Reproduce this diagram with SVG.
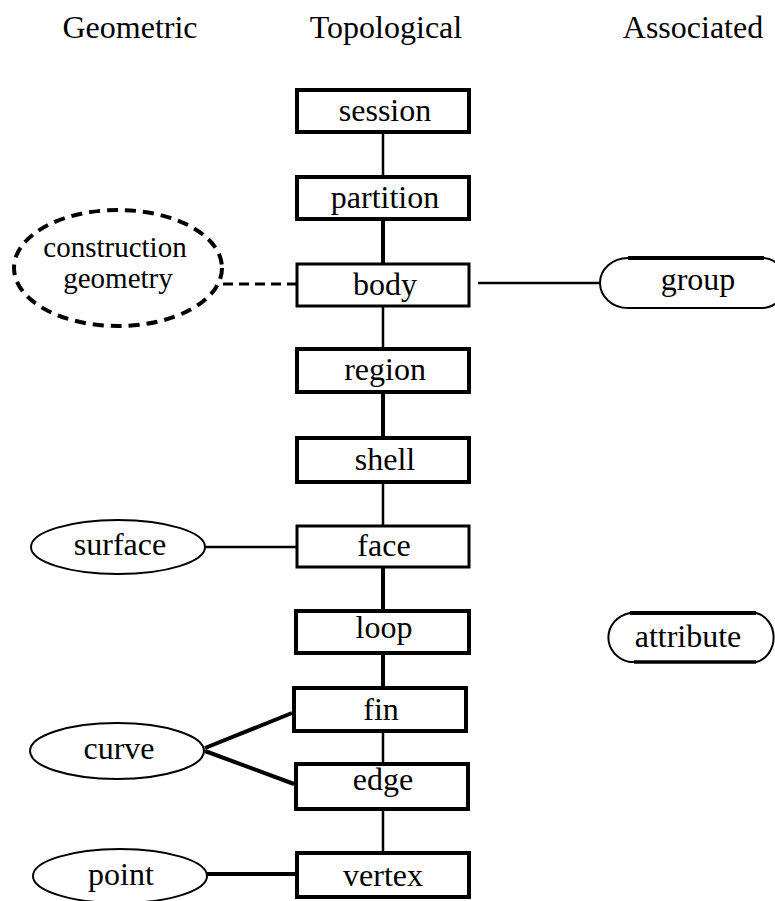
<svg xmlns="http://www.w3.org/2000/svg" width="775" height="901" viewBox="0 0 775 901" font-family="'Liberation Serif', 'Times New Roman', serif">
<style>
text{font-family:'Liberation Serif','Times New Roman',serif;font-size:32px;fill:#000;text-anchor:middle}
.box{fill:#fff;stroke:#000;stroke-width:4}
.ell{fill:#fff;stroke:#000;stroke-width:2}
.pill{fill:#fff;stroke:#000;stroke-width:2}
.c{stroke:#000;stroke-width:2.5;fill:none}
.ct{stroke:#000;stroke-width:4;fill:none}
.cg{font-size:29px}
</style>
<rect width="775" height="901" fill="#fff"/>
<g id="headers">
<text x="130" y="38">Geometric</text>
<text x="386" y="38">Topological</text>
<text x="693" y="38">Associated</text>
</g>
<g id="connectors">
<line class="c" x1="383" y1="131" x2="383" y2="176"/>
<line class="ct" x1="383" y1="220" x2="383" y2="265"/>
<line class="c" x1="383" y1="306" x2="383" y2="349"/>
<line class="ct" x1="383" y1="393" x2="383" y2="438"/>
<line class="c" x1="383" y1="482" x2="383" y2="526"/>
<line class="ct" x1="383" y1="567" x2="383" y2="611"/>
<line class="ct" x1="383" y1="653" x2="383" y2="688"/>
<line class="c" x1="383" y1="731" x2="383" y2="764"/>
<line class="c" x1="383" y1="809" x2="383" y2="853"/>
<line class="c" x1="478" y1="283" x2="600" y2="283"/>
<line x1="223" y1="284" x2="296" y2="284" stroke="#000" stroke-width="3" stroke-dasharray="10,6"/>
<line class="c" x1="205" y1="547" x2="296" y2="547"/>
<line class="ct" x1="205" y1="748" x2="292" y2="713"/>
<line class="ct" x1="205" y1="751" x2="294" y2="784"/>
<line class="ct" x1="207" y1="874" x2="296" y2="874"/>
</g>
<g id="session"><rect class="box" x="297" y="90" width="172" height="42"/><text x="385" y="121">session</text></g>
<g id="partition"><rect class="box" x="297" y="177" width="172" height="42"/><text x="385" y="208">partition</text></g>
<g id="body"><rect class="box" x="297" y="264" width="172" height="42" style="stroke-width:3"/><text x="385" y="295">body</text></g>
<g id="region"><rect class="box" x="297" y="349" width="172" height="43"/><text x="385" y="380">region</text></g>
<g id="shell"><rect class="box" x="297" y="438" width="172" height="44"/><text x="385" y="470">shell</text></g>
<g id="face"><rect class="box" x="297" y="526" width="172" height="41" style="stroke-width:3"/><text x="384" y="556">face</text></g>
<g id="loop"><rect class="box" x="296" y="611" width="173" height="42"/><text x="384" y="638">loop</text></g>
<g id="fin"><rect class="box" x="294" y="688" width="172" height="43"/><text x="381" y="720">fin</text></g>
<g id="edge"><rect class="box" x="296" y="764" width="172" height="45"/><text x="383" y="790">edge</text></g>
<g id="vertex"><rect class="box" x="297" y="853" width="172" height="44"/><text x="383" y="886">vertex</text></g>
<g id="construction-geometry"><ellipse cx="118" cy="268" rx="104" ry="58" fill="#fff" stroke="#000" stroke-width="4" stroke-dasharray="11,7"/><text class="cg" x="115" y="257">construction</text><text class="cg" x="118" y="288">geometry</text></g>
<g id="surface"><ellipse class="ell" cx="118" cy="547" rx="87" ry="27"/><text x="120" y="555">surface</text></g>
<g id="curve"><ellipse class="ell" cx="117" cy="751" rx="87" ry="28"/><text x="119" y="759">curve</text></g>
<g id="point"><ellipse class="ell" cx="120" cy="876" rx="87" ry="27"/><text x="121" y="885">point</text></g>
<g id="group"><path class="pill" d="M628 258 H762 A24 25 0 0 1 762 308 H628 A28 25 0 0 1 628 258 Z"/><line x1="628" y1="258" x2="764" y2="258" stroke="#000" stroke-width="4"/><text x="698" y="290">group</text></g>
<g id="attribute"><path class="pill" d="M630 613 H756 A22 25 0 0 1 756 662 H630 A27 25 0 0 1 630 613 Z"/><line x1="630" y1="613" x2="756" y2="613" stroke="#000" stroke-width="4"/><line x1="634" y1="662" x2="756" y2="662" stroke="#000" stroke-width="3.5"/><text x="688" y="647">attribute</text></g>
</svg>
